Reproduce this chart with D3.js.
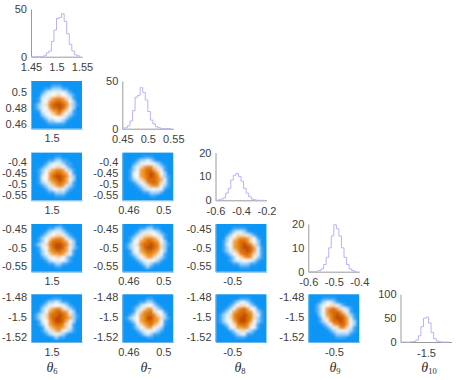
<!DOCTYPE html>
<meta charset="utf-8">
<style>
body { margin: 0; background: #fff; }
text { font-family: "Liberation Sans", Arial, sans-serif; font-size: 11px; fill: #404040; }
.axis path { stroke: #9a9a9a; }
.hist { fill: none; stroke: #b4b4f8; stroke-width: 1; }
.theta { font-family: "Liberation Serif", serif; font-size: 14px; fill: #303030; }
</style>
<body>
<svg width="456" height="380"></svg>
<script src="https://d3js.org/d3.v7.min.js"></script>
<script>

var svg = d3.select("svg");

// panel layout
var colLeft = [31, 122.3, 215.5, 308.3, 400.5],
    rowTop  = [9, 81, 152.6, 224, 294.3],
    panelW  = 51,
    panelH  = 47.7;

var names = ["6", "7", "8", "9", "10"];

// histograms, 20 bins each
var binWidth = [0.005, 0.005, 0.02, 0.01, 0.01];
var hist6  = [0, 0, 0, 0, 0, 1, 4, 6, 16, 28, 40, 41, 45, 37, 24, 13, 6, 2, 1, 0];
var hist7  = [0.5, 1, 3, 8, 19, 33, 35, 43, 38, 30, 18, 9, 5, 2, 1, 0, 0, 0, 0, 0];
var hist8  = [0, 0.2, 0.5, 1, 3, 5, 8.5, 10.5, 11.2, 10, 8, 5, 3, 1.5, 0.5, 0.2, 0, 0, 0, 0];
var hist9  = [0, 0, 0, 0.2, 0.5, 1.2, 3, 6, 10, 15, 19.7, 18, 15, 10, 6, 3, 1.2, 0.5, 0, 0];
var hist10 = [0, 0, 0, 0, 0.5, 1, 4, 13, 32, 50, 52, 40, 20, 7, 2, 0.5, 0, 0, 0, 0];
var hists = [hist6, hist7, hist8, hist9, hist10];

var histXDomain = [[1.45, 1.55], [0.45, 0.55], [-0.6, -0.2], [-0.6, -0.4], [-1.6, -1.4]];
var histXTicks  = [[1.45, 1.5, 1.55], [0.45, 0.5, 0.55], [-0.6, -0.4, -0.2], [-0.6, -0.5, -0.4], [-1.5]];
var histYMax    = [50, 50, 20, 20, 100];
var histYTicks  = [[0, 50], [0, 50], [0, 10, 20], [0, 10, 20], [0, 50, 100]];

// joint panels
var jointXDomain = [[1.467, 1.549], [0.4531, 0.5114], [-0.5766, -0.3427], [-0.5676, -0.4334]];
var jointYDomain = [null, [0.4546, 0.5134], [-0.5744, -0.357], [-0.564, -0.4376], [-1.5254, -1.477]];
var jointXTicks  = [[1.5], [0.46, 0.5], [-0.5], [-0.5]];
var jointYTicks  = [null, [0.46, 0.48, 0.5], [-0.55, -0.5, -0.45, -0.4], [-0.55, -0.5, -0.45], [-1.52, -1.5, -1.48]];

// density grids, digit = level 0-9, first line is the top of the panel
var d7_6 = ["000000000000000","000000111000000","000011222110000","000123333321000","000233455432100","001335677653100","001346788764200","012357899875210","012346889864200","001335678653100","000234567532100","000123444321000","000012233210000","000001111100000","000000000000000"];
var d8_6 = ["000000000000000","000000011000000","000001122110000","000012333211000","000123455421000","001235677632100","001246788764100","001346899875200","001346789864200","001235678763100","000123567632100","000012345321000","000001122210000","000000011100000","000000000000000"];
var d8_7 = ["000000000000000","000000111000000","000012232100000","000123444321000","000235677532100","001246788653100","001346789864200","001346789875210","001235688876310","000124578875310","000012356764210","000001233433100","000000112221000","000000001100000","000000000000000"];
var d9_6 = ["000000001000000","000001122100000","000012333210000","000123455321000","001235677632100","001246888764200","012357899875200","001346899864210","001246788763100","000235667653100","000123455421000","000012334321000","000001122110000","000000011000000","000000000000000"];
var d9_7 = ["000000001000000","000001122110000","000012334321000","000123555432100","001235677653100","001346788764200","012357889875210","012346899875200","001346788764200","001235677653100","000124566532100","000012344321000","000001232110000","000000121000000","000000000000000"];
var d9_8 = ["000000000000000","000001111000000","000012332100000","000124555321000","000235677653100","001246788754200","001346789875200","001246789986310","001235688986310","000124578875310","000012456764210","000012334432100","000001122211000","000000011100000","000000000000000"];
var d10_6 = ["000000000000000","000000111000000","000012232110000","000123444321000","000235677532100","001246788764200","012357889875210","012357899876210","001346899864200","001246788753100","000135677653100","000123566432100","000012333210000","000000121100000","000000000000000"];
var d10_7 = ["000000000000000","000000011000000","000001122100000","000012344210000","000123566321000","000135778543100","001246788754200","012346799765210","001246788764100","000135678653100","000124566432000","000012344321000","000001232110000","000000011000000","000000000000000"];
var d10_8 = ["000000000000000","000000011100000","000001233210000","000012455421000","000124678643100","001246788764210","012357889875310","012357899875210","012346899864210","001245788753100","000134667643100","000012455321000","000001233110000","000000111000000","000000000000000"];
var d10_9 = ["000000000000000","000011110000000","000123321000000","001234553210000","001246786532100","001246888753100","000246789875210","000135789986310","000124688986420","000012467886420","000001245775310","000000123443210","000000012222100","000000001110000","000000000000000"];

var joints = [
  {row: 1, col: 0, grid: d7_6},
  {row: 2, col: 0, grid: d8_6},
  {row: 2, col: 1, grid: d8_7},
  {row: 3, col: 0, grid: d9_6},
  {row: 3, col: 1, grid: d9_7},
  {row: 3, col: 2, grid: d9_8},
  {row: 4, col: 0, grid: d10_6},
  {row: 4, col: 1, grid: d10_7},
  {row: 4, col: 2, grid: d10_8},
  {row: 4, col: 3, grid: d10_9}
];

// blue - white - orange - brown
var color = d3.scaleLinear()
    .domain([0, 1, 2, 3, 4, 5, 6, 7, 8, 9])
    .range(["#0a96f5", "#3fa9f6", "#a6d8fa", "#e8f5fc", "#fffaf4", "#fde0b8", "#f7a540", "#f08a10", "#e06a05", "#c44a02"]);

var fmt = function(d) { return String(d); };

var defs = svg.append("defs");
defs.append("filter").attr("id", "soft")
    .attr("x", "-10%").attr("y", "-10%").attr("width", "120%").attr("height", "120%")
  .append("feGaussianBlur").attr("stdDeviation", 1.2);

var line = d3.line().curve(d3.curveStepAfter);

// diagonal: histograms
hists.forEach(function(values, i) {
    var g = svg.append("g").attr("transform", "translate(" + colLeft[i] + "," + rowTop[i] + ")");
    var x = d3.scaleLinear().domain(histXDomain[i]).range([0, panelW]);
    var y = d3.scaleLinear().domain([0, histYMax[i]]).range([panelH, 0]);

    var xAxis = d3.axisBottom(x).tickValues(histXTicks[i]).tickSize(0).tickPadding(7).tickFormat(fmt);
    var yAxis = d3.axisLeft(y).tickValues(histYTicks[i]).tickSize(0).tickPadding(4).tickFormat(fmt);

    g.append("g").attr("class", "axis").attr("transform", "translate(0," + panelH + ")").call(xAxis);
    g.append("g").attr("class", "axis").call(yAxis);

    var pts = values.map(function(v, k) { return [x(histXDomain[i][0] + k * binWidth[i]), y(v)]; });
    g.append("path").attr("class", "hist").attr("d", line(pts));

    // x label under the last row
    var label = svg.append("text").attr("class", "theta")
        .attr("x", [52, 146, 240, 335, 429][i]).attr("y", 372).attr("text-anchor", "middle");
    label.append("tspan").style("font-style", "italic").text("\u03b8");
    label.append("tspan").attr("dy", 2).style("font-size", "8.5px").text(names[i]);
});

// off diagonal: heatmaps
joints.forEach(function(p, n) {
    var g = svg.append("g").attr("transform", "translate(" + colLeft[p.col] + "," + rowTop[p.row] + ")");
    var x = d3.scaleLinear().domain(jointXDomain[p.col]).range([0, panelW]);
    var y = d3.scaleLinear().domain(jointYDomain[p.row]).range([panelH, 0]);
    var ix = d3.scaleBand().domain(d3.range(15)).range([0, panelW]);
    var iy = d3.scaleBand().domain(d3.range(15)).range([0, panelH]);

    defs.append("clipPath").attr("id", "clip" + n)
      .append("rect").attr("width", panelW).attr("height", panelH);

    var holder = g.append("g").attr("clip-path", "url(#clip" + n + ")");
    holder.append("rect").attr("width", panelW).attr("height", panelH).attr("fill", color(0));

    var cells = [];
    p.grid.forEach(function(line, r) {
        line.split("").forEach(function(c, k) { cells.push({r: r, k: k, v: +c}); });
    });

    holder.append("g").attr("filter", "url(#soft)")
      .selectAll("rect").data(cells).enter().append("rect")
        .attr("x", function(d) { return ix(d.k); })
        .attr("y", function(d) { return iy(d.r); })
        .attr("width", ix.bandwidth() + 0.3)
        .attr("height", iy.bandwidth() + 0.3)
        .attr("fill", function(d) { return color(d.v); });

    var xAxis = d3.axisBottom(x).tickValues(jointXTicks[p.col]).tickSize(0).tickPadding(6).tickFormat(fmt);
    var yAxis = d3.axisLeft(y).tickValues(jointYTicks[p.row]).tickSize(0).tickPadding(4).tickFormat(fmt);
    g.append("g").attr("class", "axis").attr("transform", "translate(0," + panelH + ")").call(xAxis);
    g.append("g").attr("class", "axis").call(yAxis);
    g.selectAll(".axis path").style("stroke", "#6fb6e6");
});

</script>
</body>
